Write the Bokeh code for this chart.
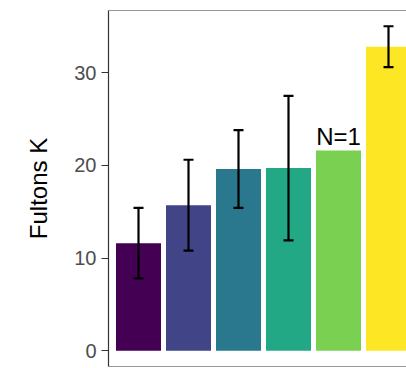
from bokeh.plotting import figure
from bokeh.models import ColumnDataSource, Range1d, Span, FixedTicker, Whisker, TeeHead
from bokeh.embed import file_html
from bokeh.resources import INLINE
from bokeh.core.properties import value

# Data
categories = ["G1", "G2", "G3", "G4", "G5", "G6"]
means = [11.6, 15.7, 19.6, 19.7, 21.6, 32.8]
lower = [7.8, 10.8, 15.4, 11.9, 21.6, 30.6]
upper = [15.4, 20.6, 23.8, 27.5, 21.6, 35.0]
colors = ["#440154", "#414487", "#2A788E", "#22A884", "#7AD151", "#FDE725"]
annot_cat = "G5"
annot_text = "N=1"
y_ticks = [0, 10, 20, 30]

x = [i + 1 for i in range(len(categories))]
has_err = [lo != hi for lo, hi in zip(lower, upper)]

src = ColumnDataSource(dict(x=x, cat=categories, top=means, color=colors))
err_src = ColumnDataSource(dict(
    x=[xi for xi, h in zip(x, has_err) if h],
    lo=[v for v, h in zip(lower, has_err) if h],
    hi=[v for v, h in zip(upper, has_err) if h],
))

y0, y1 = -1.7, 36.7
x0 = 0.4
x1 = x0 + (406 - 108) / 50.0

p = figure(width=406, height=368, output_backend="svg", toolbar_location=None,
           x_range=Range1d(x0, x1), y_range=Range1d(y0, y1),
           min_border_left=108, min_border_top=10, min_border_right=0,
           min_border_bottom=2)
p.outline_line_color = None
p.background_fill_color = "white"
p.border_fill_color = "white"
p.xgrid.visible = False
p.ygrid.visible = False
p.xaxis.visible = False

p.vbar(x="x", top="top", bottom=0, width=0.9, fill_color="color",
       line_color=None, source=src)

w = Whisker(base="x", lower="lo", upper="hi", source=err_src,
            line_color="black", line_width=2.2, level="overlay",
            upper_head=TeeHead(size=10, line_color="black", line_width=2.2),
            lower_head=TeeHead(size=10, line_color="black", line_width=2.2))
p.add_layout(w)

ai = categories.index(annot_cat)
p.text(x=[x[ai]], y=[means[ai] + 0.5], text=[annot_text],
       text_font=value("Liberation Sans"), text_font_size="24px",
       text_color="black", text_align="center", text_baseline="bottom",
       y_offset=4)

# panel border (left via axis line, top and bottom via spans)
p.add_layout(Span(location=y1, dimension="width", line_color="#333333", line_width=1.2))
p.add_layout(Span(location=y0, dimension="width", line_color="#333333", line_width=1.2))

ya = p.yaxis[0]
ya.ticker = FixedTicker(ticks=y_ticks)
ya.minor_tick_line_color = None
ya.major_tick_in = 0
ya.major_tick_out = 7
ya.major_tick_line_color = "#333333"
ya.major_tick_line_width = 1.2
ya.axis_line_color = "#333333"
ya.axis_line_width = 1.2
ya.major_label_text_font = "Liberation Sans"
ya.major_label_text_font_size = "20px"
ya.major_label_text_color = "#4d4d4d"
ya.major_label_standoff = 5
ya.axis_label = "Fultons K"
ya.axis_label_text_font = "Liberation Sans"
ya.axis_label_text_font_size = "24px"
ya.axis_label_text_font_style = "normal"
ya.axis_label_text_color = "black"
ya.axis_label_standoff = 19

open("out.html", "w").write(file_html(p, INLINE))
